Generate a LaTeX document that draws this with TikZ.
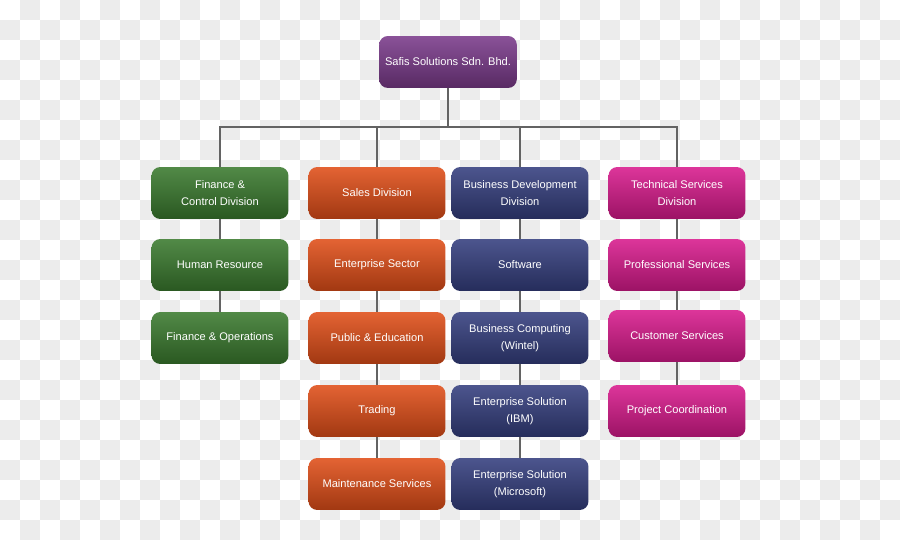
\documentclass[tikz,border=0pt]{standalone}
\usepackage{fontspec}
\setmainfont{Liberation Sans}
\usepackage{tikz}

\definecolor{chk}{HTML}{ECECEC}
\definecolor{wire}{HTML}{636363}
\definecolor{cpurple}{HTML}{7A3A8A}
\definecolor{cgreen}{HTML}{3A7A2E}
\definecolor{corange}{HTML}{E04E18}
\definecolor{cnavy}{HTML}{343E7E}
\definecolor{cpink}{HTML}{D81A8C}

\begin{document}
\begin{tikzpicture}[x=0.02cm,y=-0.02cm,
  unit/.style={rounded corners=5pt,minimum width=2.74cm,minimum height=1.04cm,
    align=center,text=white,font=\fontsize{6.3}{9.6}\selectfont,
    top color=#1!88!white,middle color=#1,bottom color=#1!72!black},
  link/.style={draw=wire,line width=1.7pt}]
  % background
  \useasboundingbox (0,0) rectangle (900,540);
  \fill[white] (0,0) rectangle (900,540);
  \foreach \i in {0,...,44}
    \foreach \j in {0,...,26} {
      \pgfmathparse{int(mod(\i+\j,2))}
      \ifnum\pgfmathresult=1
        \fill[chk] (\i*20,\j*20) rectangle ++(20,20);
      \fi
    }
  % boxes
  \node[unit=cpurple] (top) at (448,62) {Safis Solutions Sdn. Bhd.};
  \coordinate (bus) at (448,127);

  \node[unit=cgreen] (fin) at (220,193) {Finance \&\\Control Division};
  \node[unit=cgreen] (hr) at (220,265) {Human Resource};
  \node[unit=cgreen] (fops) at (220,338) {Finance \& Operations};

  \node[unit=corange] (sales) at (377,193) {Sales Division};
  \node[unit=corange] (ent) at (377,265) {Enterprise Sector};
  \node[unit=corange] (pub) at (377,338) {Public \& Education};
  \node[unit=corange] (trad) at (377,411) {Trading};
  \node[unit=corange] (maint) at (377,484) {Maintenance Services};

  \node[unit=cnavy] (bdd) at (520,193) {Business Development\\Division};
  \node[unit=cnavy] (soft) at (520,265) {Software};
  \node[unit=cnavy] (bc) at (520,338) {Business Computing\\(Wintel)};
  \node[unit=cnavy] (ibm) at (520,411) {Enterprise Solution\\(IBM)};
  \node[unit=cnavy] (ms) at (520,484) {Enterprise Solution\\(Microsoft)};

  \node[unit=cpink] (tech) at (677,193) {Technical Services\\Division};
  \node[unit=cpink] (prof) at (677,265) {Professional Services};
  \node[unit=cpink] (cust) at (677,336) {Customer Services};
  \node[unit=cpink] (proj) at (677,411) {Project Coordination};

  % connectors
  \draw[link] (top.south) -- (bus);
  \draw[link] (fin.north) |- (bus);
  \draw[link] (sales.north) |- (bus);
  \draw[link] (bdd.north) |- (bus);
  \draw[link] (tech.north) |- (bus);
  \draw[link] (fin.south) -- (hr.north) (hr.south) -- (fops.north);
  \draw[link] (sales.south) -- (ent.north) (ent.south) -- (pub.north)
    (pub.south) -- (trad.north) (trad.south) -- (maint.north);
  \draw[link] (bdd.south) -- (soft.north) (soft.south) -- (bc.north)
    (bc.south) -- (ibm.north) (ibm.south) -- (ms.north);
  \draw[link] (tech.south) -- (prof.north) (prof.south) -- (cust.north)
    (cust.south) -- (proj.north);
\end{tikzpicture}
\end{document}
